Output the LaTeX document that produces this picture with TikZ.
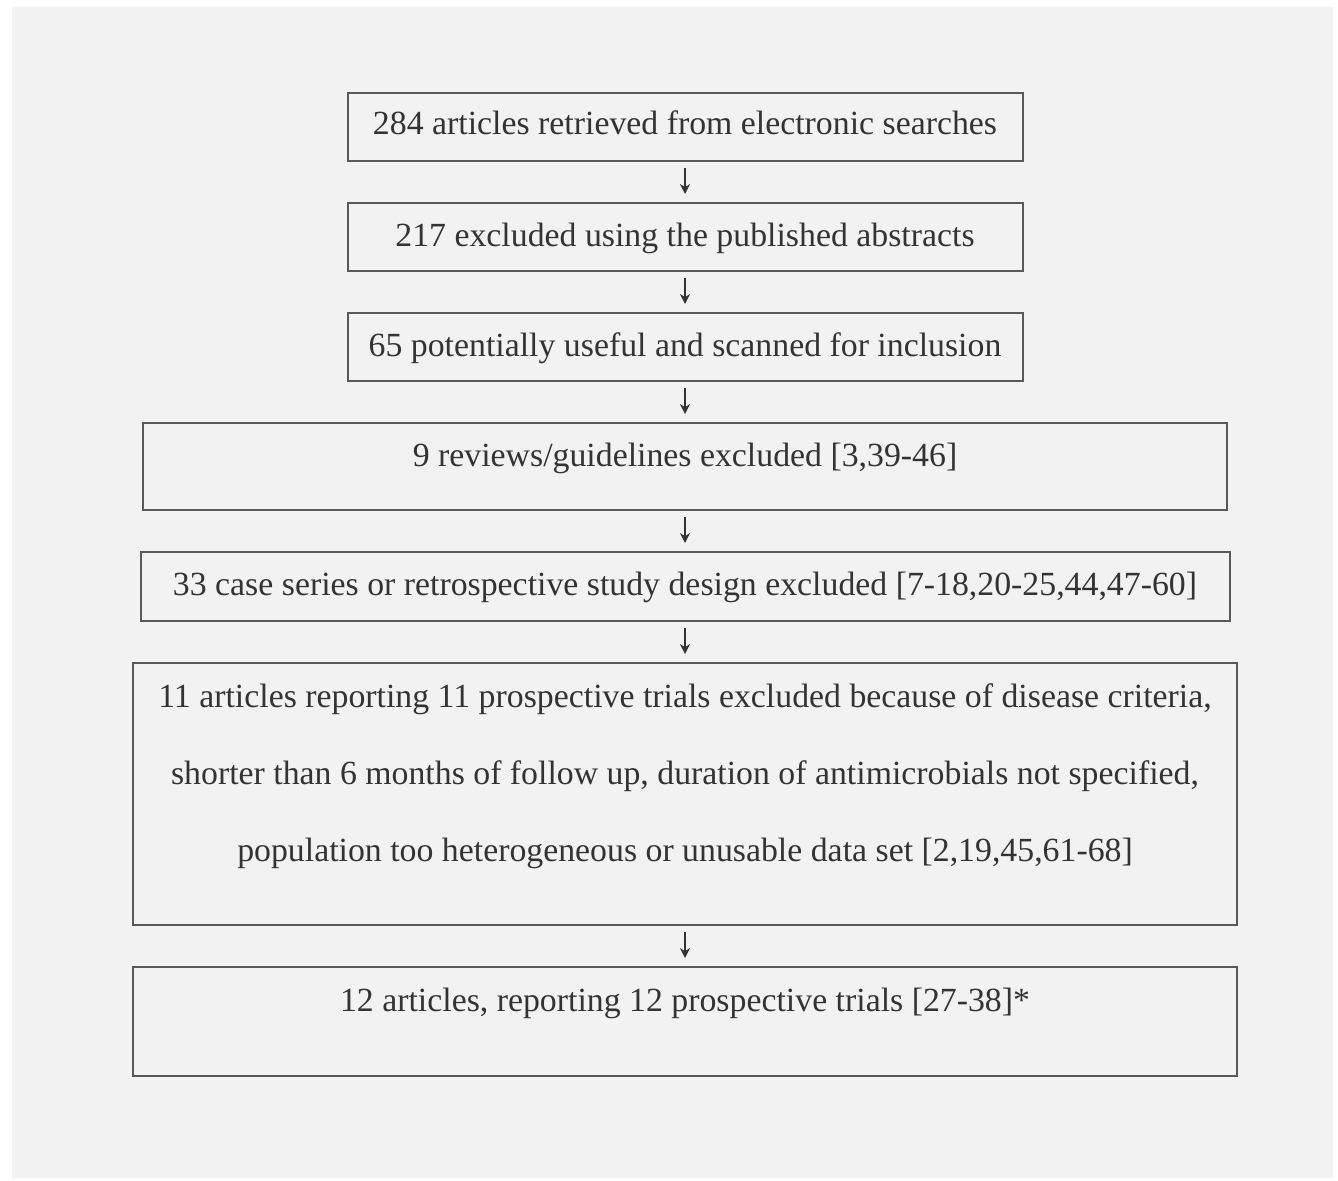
\documentclass[tikz,border=0pt]{standalone}
\usepackage{fontspec}
\setmainfont{Liberation Serif}
\usetikzlibrary{positioning,arrows.meta}
\definecolor{boxLine}{HTML}{595959}
\definecolor{inkGray}{HTML}{333333}
\definecolor{scanPaper}{HTML}{F2F2F2}

\begin{document}
\begin{tikzpicture}[>={Stealth[length=5pt,width=5pt]}, node distance=20pt,
          stage/.style={draw=boxLine, line width=1pt, text=inkGray, font=\fontsize{16.9pt}{38.5pt}\selectfont, align=center, inner xsep=0pt, inner ysep=0pt, text height=22pt, text depth=12pt, minimum width=337.5pt},
          flow/.style={->, inkGray, line width=0.8pt}]
        \useasboundingbox (0,0) rectangle (669pt,-590.5pt);
        \fill[scanPaper] (6pt,-3.5pt) rectangle (666.5pt,-589pt);
        \node[stage, anchor=north, text height=21pt, text depth=13pt] (search) at (342.5pt,-46pt) {284 articles retrieved from electronic searches};
        \node[stage, below=of search] (abstracts) {217 excluded using the published abstracts};
        \node[stage, below=of abstracts] (useful) {65 potentially useful and scanned for inclusion};
        \node[stage, below=of useful, minimum width=542pt, text depth=21.5pt] (reviews) {9 reviews/guidelines excluded [3,39-46]};
        \node[stage, below=of reviews, minimum width=544.5pt, text depth=12.5pt] (series) {33 case series or retrospective study design excluded [7-18,20-25,44,47-60]};
        \node[stage, below=of series, minimum width=552pt, text height=99pt, text depth=32pt] (criteria) {11 articles reporting 11 prospective trials excluded because of disease criteria,\\shorter than 6 months of follow up, duration of antimicrobials not specified,\\population too heterogeneous or unusable data set [2,19,45,61-68]};
        \node[stage, below=of criteria, minimum width=552pt, text depth=32.5pt] (trials) {12 articles, reporting 12 prospective trials [27-38]*};
        \draw[flow] ([yshift=-3pt]search.south) -- ([yshift=4pt]abstracts.north);
        \draw[flow] ([yshift=-3pt]abstracts.south) -- ([yshift=4pt]useful.north);
        \draw[flow] ([yshift=-3pt]useful.south) -- ([yshift=4pt]reviews.north);
        \draw[flow] ([yshift=-3pt]reviews.south) -- ([yshift=4pt]series.north);
        \draw[flow] ([yshift=-3pt]series.south) -- ([yshift=4pt]criteria.north);
        \draw[flow] ([yshift=-3pt]criteria.south) -- ([yshift=4pt]trials.north);
      \end{tikzpicture}
\end{document}
